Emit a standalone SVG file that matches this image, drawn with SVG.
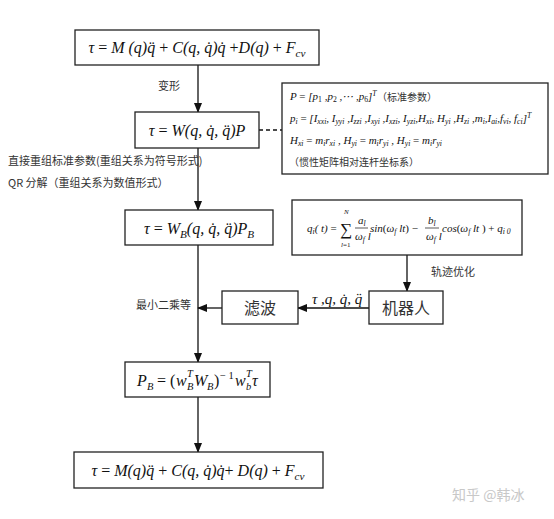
<svg xmlns="http://www.w3.org/2000/svg" width="554" height="519" viewBox="0 0 554 519">
<style>
.box{fill:#fff;stroke:#222;stroke-width:1.3}
.ln{stroke:#111;stroke-width:1.3;fill:none}
.m{font-family:"Liberation Serif","DejaVu Serif",serif;font-style:italic;fill:#111}
.r{font-style:normal}
.cn{font-family:"Noto Sans CJK SC","Noto Sans",sans-serif;fill:#333}
.sub{font-size:70%}
</style>
<defs>
<marker id="ah" markerWidth="10" markerHeight="10" refX="9" refY="5" orient="auto" markerUnits="userSpaceOnUse">
<path d="M0,1 L10,5 L0,9 Z" fill="#111"/>
</marker>
</defs>
<rect width="554" height="519" fill="#fff"/>

<g id="connectors">
<line class="ln" x1="198" y1="65" x2="198" y2="112" marker-end="url(#ah)"/>
<line class="ln" x1="198" y1="148" x2="198" y2="210" marker-end="url(#ah)"/>
<line class="ln" x1="198" y1="245" x2="198" y2="362" marker-end="url(#ah)"/>
<line class="ln" x1="198" y1="397" x2="198" y2="452" marker-end="url(#ah)"/>
<line class="ln" x1="259" y1="130" x2="282" y2="130" stroke-dasharray="4,3"/>
<line class="ln" x1="407" y1="255" x2="407" y2="291" marker-end="url(#ah)"/>
<line class="ln" x1="369" y1="308" x2="298" y2="308" marker-end="url(#ah)"/>
<line class="ln" x1="222" y1="308" x2="198" y2="308" marker-end="url(#ah)"/>
<text class="cn" x="158" y="90" font-size="11">变形</text>
<text class="cn" x="8" y="165" font-size="11">直接重组标准参数(重组关系为符号形式)</text>
<text class="cn" x="8" y="187" font-size="11">QR 分解（重组关系为数值形式）</text>
<text class="cn" x="136" y="309" font-size="11">最小二乘等</text>
<text class="cn" x="431" y="276" font-size="11">轨迹优化</text>
<text class="m" x="312" y="304" font-size="15">τ ,q, q̇, q̈</text>
</g>

<g id="n1">
<rect class="box" x="75" y="30" width="244" height="35"/>
<text class="m" x="197" y="53" font-size="16" text-anchor="middle">τ <tspan class="r">= </tspan>M (q)q̈ <tspan class="r">+</tspan> C(q, q̇)q̇ <tspan class="r">+</tspan>D(q) <tspan class="r">+</tspan> F<tspan class="sub" dy="4">cv</tspan></text>
</g>

<g id="n2">
<rect class="box" x="135" y="112" width="124" height="36"/>
<text class="m" x="197" y="136" font-size="16" text-anchor="middle">τ <tspan class="r">= </tspan>W(q, q̇, q̈)P</text>
</g>

<g id="info">
<rect class="box" x="282" y="83" width="266" height="91"/>
<text class="m" x="290" y="100" font-size="11">P <tspan class="r">=</tspan> [p<tspan class="sub r" dy="2">1</tspan><tspan dy="-2"> ,p</tspan><tspan class="sub r" dy="2">2</tspan><tspan dy="-2"> ,⋯ ,p</tspan><tspan class="sub r" dy="2">6</tspan><tspan dy="-2">]</tspan><tspan class="sub" dy="-4">T</tspan></text>
<text class="cn" x="377" y="101" font-size="10">（标准参数）</text>
<text class="m" x="290" y="122" font-size="11">p<tspan class="sub" dy="2">i</tspan><tspan dy="-2" class="r"> = </tspan>[I<tspan class="sub" dy="2">xxi</tspan><tspan dy="-2">, I</tspan><tspan class="sub" dy="2">yyi</tspan><tspan dy="-2"> ,I</tspan><tspan class="sub" dy="2">zzi</tspan><tspan dy="-2"> ,I</tspan><tspan class="sub" dy="2">xyi</tspan><tspan dy="-2"> ,I</tspan><tspan class="sub" dy="2">xzi</tspan><tspan dy="-2">, I</tspan><tspan class="sub" dy="2">yzi</tspan><tspan dy="-2">,H</tspan><tspan class="sub" dy="2">xi</tspan><tspan dy="-2">, H</tspan><tspan class="sub" dy="2">yi</tspan><tspan dy="-2"> ,H</tspan><tspan class="sub" dy="2">zi</tspan><tspan dy="-2"> ,m</tspan><tspan class="sub" dy="2">i</tspan><tspan dy="-2">,I</tspan><tspan class="sub" dy="2">ai</tspan><tspan dy="-2">,f</tspan><tspan class="sub" dy="2">vi</tspan><tspan dy="-2">, f</tspan><tspan class="sub" dy="2">ci</tspan><tspan dy="-2">]</tspan><tspan class="sub" dy="-4">T</tspan></text>
<text class="m" x="290" y="144" font-size="11">H<tspan class="sub" dy="2">xi</tspan><tspan dy="-2" class="r"> = </tspan><tspan dy="0"> m</tspan><tspan class="sub" dy="2">i</tspan><tspan dy="-2">r</tspan><tspan class="sub" dy="2">xi</tspan><tspan dy="-2"> , H</tspan><tspan class="sub" dy="2">yi</tspan><tspan dy="-2" class="r"> = </tspan><tspan> m</tspan><tspan class="sub" dy="2">i</tspan><tspan dy="-2">r</tspan><tspan class="sub" dy="2">yi</tspan><tspan dy="-2"> , H</tspan><tspan class="sub" dy="2">yi</tspan><tspan dy="-2" class="r"> = </tspan><tspan> m</tspan><tspan class="sub" dy="2">i</tspan><tspan dy="-2">r</tspan><tspan class="sub" dy="2">yi</tspan></text>
<text class="cn" x="289" y="166" font-size="10">（惯性矩阵相对连杆坐标系）</text>
</g>

<g id="n3">
<rect class="box" x="125" y="210" width="148" height="35"/>
<text class="m" x="199" y="234" font-size="16" text-anchor="middle">τ <tspan class="r">= </tspan>W<tspan class="sub" dy="4">B</tspan><tspan dy="-4">(q, q̇, q̈)P</tspan><tspan class="sub" dy="4">B</tspan></text>
</g>

<g id="traj">
<rect class="box" x="292" y="200" width="230" height="55"/>
<g class="m" font-size="11">
<text x="307" y="232">q<tspan class="sub" dy="2">i</tspan><tspan dy="-2">( t) <tspan class="r">=</tspan></tspan></text>
<text x="340" y="235" font-size="17" class="r">∑</text>
<text x="344" y="214" font-size="7">N</text>
<text x="341" y="247" font-size="7">l<tspan class="r">=1</tspan></text>
<text x="358" y="224">a<tspan class="sub" dy="2">l</tspan></text>
<line x1="355" y1="228" x2="368" y2="228" stroke="#111" stroke-width="0.7"/>
<text x="355" y="240">ω<tspan class="sub" dy="2">f</tspan><tspan dy="-2"> l</tspan></text>
<text x="370" y="232">sin<tspan class="r">(</tspan>ω<tspan class="sub" dy="2">f</tspan><tspan dy="-2"> lt<tspan class="r">) −</tspan></tspan></text>
<text x="428" y="224">b<tspan class="sub" dy="2">l</tspan></text>
<line x1="425" y1="228" x2="439" y2="228" stroke="#111" stroke-width="0.7"/>
<text x="426" y="240">ω<tspan class="sub" dy="2">f</tspan><tspan dy="-2"> l</tspan></text>
<text x="442" y="232">cos<tspan class="r">(</tspan>ω<tspan class="sub" dy="2">f</tspan><tspan dy="-2"> lt <tspan class="r">) +</tspan> q</tspan><tspan class="sub" dy="2">i 0</tspan></text>
</g>
</g>

<g id="filter">
<rect class="box" x="222" y="291" width="76" height="33"/>
<text class="cn" x="260" y="314" font-size="16" text-anchor="middle" fill="#222">滤波</text>
</g>

<g id="robot">
<rect class="box" x="369" y="291" width="74" height="33"/>
<text class="cn" x="406" y="314" font-size="16" text-anchor="middle" fill="#222">机器人</text>
</g>

<g id="n4">
<rect class="box" x="125" y="362" width="145" height="35"/>
<g class="m" font-size="16">
<text x="137" y="386">P</text>
<text x="147" y="390" font-size="10.5">B</text>
<text x="157" y="386" class="r">= (</text>
<text x="176" y="386">w</text>
<text x="187" y="390" font-size="10.5">B</text>
<text x="187" y="377" font-size="10.5">T</text>
<text x="194" y="386">W</text>
<text x="207" y="390" font-size="10.5">B</text>
<text x="214" y="386" class="r">)</text>
<text x="220" y="379" font-size="10.5" class="r">− 1</text>
<text x="235" y="386">w</text>
<text x="246" y="390" font-size="10.5">b</text>
<text x="246" y="377" font-size="10.5">T</text>
<text x="252" y="386">τ</text>
</g>
</g>

<g id="n5">
<rect class="box" x="74" y="452" width="249" height="36"/>
<text class="m" x="198" y="476" font-size="16" text-anchor="middle">τ <tspan class="r">= </tspan>M(q)q̈ <tspan class="r">+</tspan> C(q, q̇)q̇<tspan class="r">+</tspan> D(q) <tspan class="r">+</tspan> F<tspan class="sub" dy="4">cv</tspan></text>
</g>

<text x="452" y="500" font-family="Noto Sans CJK SC,sans-serif" font-size="14" fill="#c8c8c8">知乎 @韩冰</text>
</svg>
